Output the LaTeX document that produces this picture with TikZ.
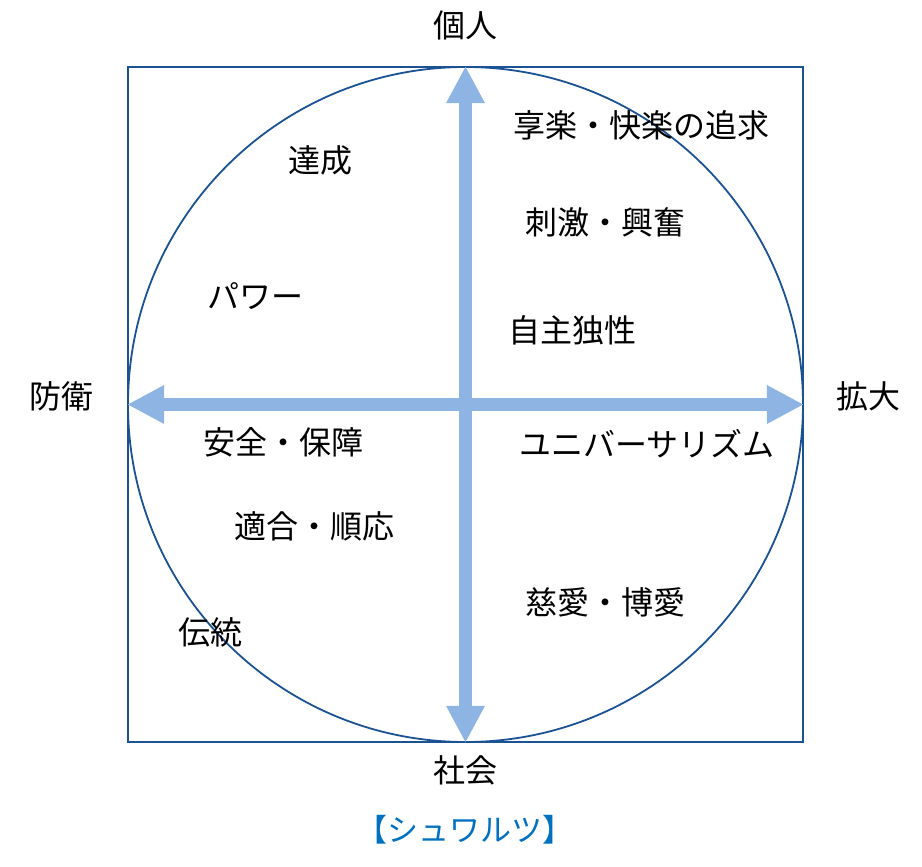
\documentclass[tikz,border=0pt]{standalone}
\usepackage{fontspec}
\newfontfamily\jpfont{Noto Sans CJK JP}
\usetikzlibrary{arrows.meta}
\definecolor{ringblue}{HTML}{1B5294}
\definecolor{axisblue}{HTML}{8EB4E3}
\definecolor{titleblue}{HTML}{0070C0}

\begin{document}
\begin{tikzpicture}[x=1pt, y=-1pt,
    value/.style={font=\jpfont\fontsize{32}{32}\selectfont, inner sep=0pt},
    axis/.style={axisblue, line width=13pt,
                 {Triangle[length=37pt, width=36pt]}-{Triangle[length=37pt, width=36pt]}}]
            \useasboundingbox (0,0) rectangle (922,867);
            \node[draw=ringblue, line width=1.8pt, minimum size=675pt, inner sep=0pt] (frame) at (465.5,404.5) {};
            \node[draw=ringblue, line width=1.8pt, circle, minimum size=675pt, inner sep=0pt] (ring) at (465.5,404.5) {};

            \draw[axis] (ring.south) -- (ring.north);
            \draw[axis] (ring.west) -- (ring.east);

            \node[value] (ind) at (465,25) {個人};
            \node[value] (soc) at (465,770) {社会};
            \node[value] (def) at (62,396) {防衛};
            \node[value] (exp) at (868,396) {拡大};
            \node[value, font=\jpfont\fontsize{31}{31}\selectfont, text=titleblue] (title) at (465,830) {【シュワルツ】};

            \node[value] (ach) at (320,160) {達成};
            \node[value] (pow) at (255,296) {パワー};
            \node[value] (sec) at (283,442) {安全・保障};
            \node[value] (con) at (314,526) {適合・順応};
            \node[value] (tra) at (210,632) {伝統};
            \node[value] (hed) at (641,125) {享楽・快楽の追求};
            \node[value] (sti) at (605,222) {刺激・興奮};
            \node[value] (sel) at (572,330) {自主独性};
            \node[value] (uni) at (647,444) {ユニバーサリズム};
            \node[value] (ben) at (605,602) {慈愛・博愛};
          \end{tikzpicture}
\end{document}
